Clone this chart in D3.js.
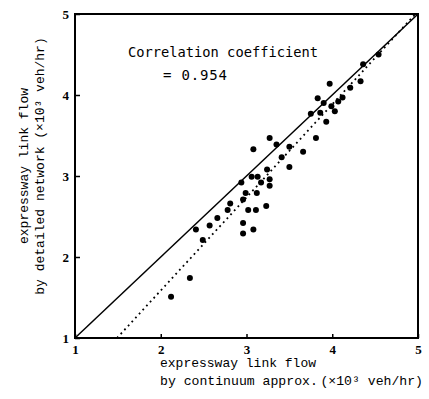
<!DOCTYPE html>
<html>
<head>
<meta charset="utf-8">
<script src="https://cdn.jsdelivr.net/npm/d3@7"></script>
<style>
  html, body { margin: 0; padding: 0; background: #fff; }
  svg { display: block; }
</style>
</head>
<body>
<div id="chart"></div>
<script>
// flow by continuum approximation (x) vs by detailed network (y), x10^3 veh/hr
const flowContinuum = [4.54, 4.36, 4.33, 4.21, 4.12, 4.07, 3.99, 4.03, 3.97, 3.90,
  3.83, 3.86, 3.75, 3.93, 3.27, 3.81, 3.08, 3.35, 3.50, 3.66,
  3.41, 3.50, 3.24, 3.06, 2.94, 3.13, 3.17, 3.27, 3.27, 2.99,
  3.12, 2.96, 2.81, 2.78, 3.02, 3.11, 3.23, 2.66, 2.57, 2.41,
  2.49, 2.96, 2.96, 3.08, 2.34, 2.12];
const flowDetailed = [4.50, 4.38, 4.17, 4.09, 3.97, 3.92, 3.86, 3.80, 4.14, 3.90,
  3.96, 3.78, 3.77, 3.67, 3.47, 3.47, 3.33, 3.39, 3.36, 3.30,
  3.23, 3.11, 3.08, 2.99, 2.92, 2.99, 2.92, 2.96, 2.88, 2.79,
  2.79, 2.71, 2.66, 2.58, 2.58, 2.58, 2.63, 2.48, 2.39, 2.34,
  2.21, 2.42, 2.29, 2.34, 1.74, 1.51];

const axisTicks = [1, 2, 3, 4, 5];
const equalLineX = [1, 5];
const equalLineY = [1, 5];
const fitLineX = [1.49, 4.97];
const fitLineY = [1, 5];

const corrLabel = "Correlation coefficient";
const corrValue = "= 0.954";
const xTitle = ["expressway link flow", "by continuum approx.\u2009(\u00d710\u00b3 veh/hr)"];
const yTitle = ["expressway link flow", "by detailed network (\u00d710\u00b3 veh/hr)"];

const W = 429, H = 399;
const svg = d3.select('#chart').append('svg')
  .attr('width', W)
  .attr('height', H);

const x = d3.scaleLinear().domain([1, 5]).range([75, 418]);
const y = d3.scaleLinear().domain([1, 5]).range([338, 14]);

const tickFont = '"Liberation Serif", serif';
const textFont = '"Liberation Mono", monospace';

// frame
svg.append('rect')
  .attr('x', x(1))
  .attr('y', y(5))
  .attr('width', x(5) - x(1))
  .attr('height', y(1) - y(5))
  .attr('fill', 'none')
  .attr('stroke', '#000')
  .attr('stroke-width', 2);

// axes (inward ticks)
const xAxis = svg.append('g')
  .attr('transform', `translate(0,${y(1)})`)
  .call(d3.axisBottom(x).tickValues(axisTicks).tickSize(-4).tickPadding(7).tickFormat(d3.format('d')));
const yAxis = svg.append('g')
  .attr('transform', `translate(${x(1)},0)`)
  .call(d3.axisLeft(y).tickValues(axisTicks).tickSize(-5).tickPadding(6).tickFormat(d3.format('d')));

[xAxis, yAxis].forEach(g => {
  g.select('.domain').remove();
  g.selectAll('line').attr('stroke', '#000').attr('stroke-width', 1.5);
  g.selectAll('text')
    .attr('fill', '#000')
    .style('font-family', tickFont)
    .style('font-weight', 'bold')
    .style('font-size', '13px');
});

const line = d3.line()
  .x(d => x(d[0]))
  .y(d => y(d[1]));

// x = y line
svg.append('path')
  .datum(d3.zip(equalLineX, equalLineY))
  .attr('d', line)
  .attr('fill', 'none')
  .attr('stroke', '#000')
  .attr('stroke-width', 1.5);

// regression line (dotted)
svg.append('path')
  .datum(d3.zip(fitLineX, fitLineY))
  .attr('d', line)
  .attr('fill', 'none')
  .attr('stroke', '#000')
  .attr('stroke-width', 1.8)
  .attr('stroke-dasharray', '1.8,3.6');

// points
svg.append('g')
  .selectAll('circle')
  .data(d3.zip(flowContinuum, flowDetailed))
  .enter()
  .append('circle')
  .attr('cx', d => x(d[0]))
  .attr('cy', d => y(d[1]))
  .attr('r', 3)
  .attr('fill', '#000');

// correlation text
svg.append('text')
  .attr('x', 128)
  .attr('y', 57)
  .style('font-family', '"DejaVu Sans Mono", monospace')
  .style('font-size', '14px')
  .attr('textLength', 190)
  .attr('lengthAdjust', 'spacingAndGlyphs')
  .text(corrLabel);

svg.append('text')
  .attr('x', 163)
  .attr('y', 80)
  .style('font-family', '"DejaVu Sans Mono", monospace')
  .style('font-size', '14px')
  .attr('textLength', 64)
  .attr('lengthAdjust', 'spacing')
  .text(corrValue);

// x axis title
svg.append('text')
  .attr('x', 160)
  .attr('y', 367)
  .style('font-family', textFont)
  .style('font-size', '13px')
  .text(xTitle[0]);
svg.append('text')
  .attr('x', 160)
  .attr('y', 385)
  .style('font-family', textFont)
  .style('font-size', '13px')
  .attr('textLength', 263)
  .attr('lengthAdjust', 'spacingAndGlyphs')
  .text(xTitle[1]);

// y axis title
const yT = svg.append('g')
  .attr('transform', 'translate(0,166) rotate(-90)');
yT.append('text')
  .attr('x', 0)
  .attr('y', 28)
  .attr('text-anchor', 'middle')
  .style('font-family', textFont)
  .style('font-size', '13px')
  .text(yTitle[0]);
yT.append('text')
  .attr('x', 0)
  .attr('y', 44)
  .attr('text-anchor', 'middle')
  .style('font-family', textFont)
  .style('font-size', '13px')
  .text(yTitle[1]);
</script>
</body>
</html>
